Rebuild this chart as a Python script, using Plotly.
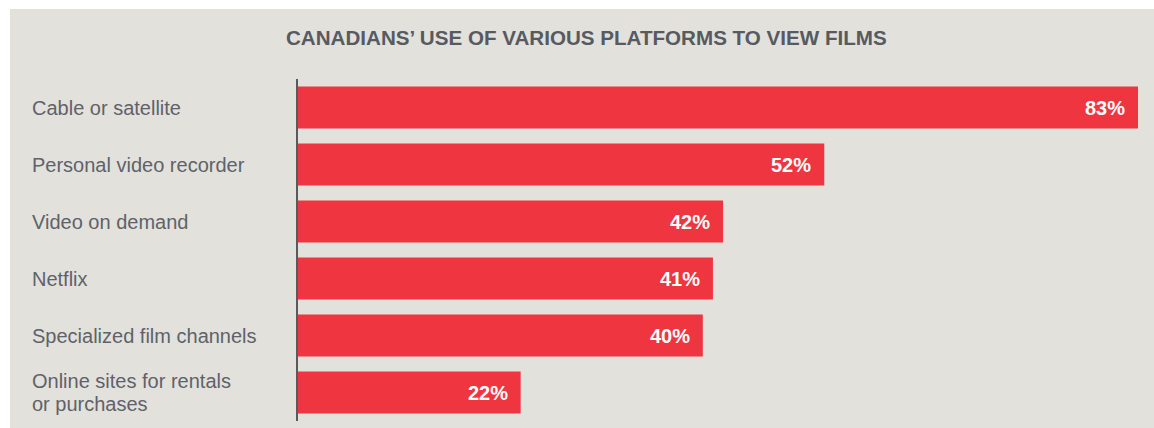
import plotly.graph_objects as go

# Survey data: share of Canadians using each platform to view films
platforms = [
    "Cable or satellite",
    "Personal video recorder",
    "Video on demand",
    "Netflix",
    "Specialized film channels",
    "Online sites for rentals<br>or purchases",
]
shares = [83, 52, 42, 41, 40, 22]
value_labels = [f"{v}%" for v in shares]

title_text = "CANADIANS\u2019 USE OF VARIOUS PLATFORMS TO VIEW FILMS"

W, H = 1154, 428
L, R, T, B = 298, 16, 79, 7
plot_w = W - L - R
plot_h = H - T - B

PANEL = "#e2e1dc"
RED = "#ef3540"
TEXT = "#5f6269"
FONT = "Liberation Sans, Arial, Helvetica, sans-serif"
LINE_STEP = 23  # spacing between lines of a wrapped category label


def px_to_paper_x(px):
    return (px - L) / plot_w


def px_to_paper_y(py):
    return (H - B - py) / plot_h


fig = go.Figure(
    go.Bar(
        x=shares,
        y=platforms,
        orientation="h",
        marker=dict(color=RED, line=dict(width=0)),
        hoverinfo="skip",
    )
)

# grey backing panel, offset from the top-left page corner
fig.add_shape(
    type="rect",
    xref="paper", yref="paper",
    x0=px_to_paper_x(10), x1=px_to_paper_x(W + 2),
    y0=px_to_paper_y(H + 2), y1=px_to_paper_y(9),
    fillcolor=PANEL, line=dict(width=0), layer="below",
)

annotations = []
# category labels, left aligned; wrapped labels get one annotation per line
for name in platforms:
    lines = name.split("<br>")
    n = len(lines)
    for i, line in enumerate(lines):
        annotations.append(dict(
            x=px_to_paper_x(30), xref="paper", y=name, yref="y",
            text=line, showarrow=False, xanchor="left", yanchor="middle",
            yshift=((n - 1) / 2 - i) * LINE_STEP,
            align="left", font=dict(family=FONT, size=20, color=TEXT),
        ))
# value labels inside the bar ends
for name, v, lab in zip(platforms, shares, value_labels):
    annotations.append(dict(
        x=v, xref="x", y=name, yref="y",
        text=f"<b>{lab}</b>", showarrow=False, xanchor="right",
        yanchor="middle", xshift=-11,
        font=dict(family=FONT, size=20, color="white"),
    ))
# chart title
annotations.append(dict(
    x=px_to_paper_x(586.5), xref="paper", y=px_to_paper_y(38), yref="paper",
    text=f"<b>{title_text}</b>", showarrow=False, xanchor="center",
    yanchor="middle", font=dict(family=FONT, size=20.6, color="#575a61"),
))

fig.update_layout(
    width=W, height=H,
    margin=dict(l=L, r=R, t=T, b=B, pad=0),
    paper_bgcolor="white",
    plot_bgcolor=PANEL,
    bargap=0.263,
    showlegend=False,
    annotations=annotations,
    xaxis=dict(range=[0, 83], visible=False, fixedrange=True),
    yaxis=dict(
        autorange="reversed",
        showticklabels=False,
        ticks="",
        showgrid=False,
        zeroline=False,
        showline=True,
        linecolor="#5a5a5a",
        linewidth=2,
        fixedrange=True,
    ),
)

fig.write_html("out.html", config={"displayModeBar": False})
